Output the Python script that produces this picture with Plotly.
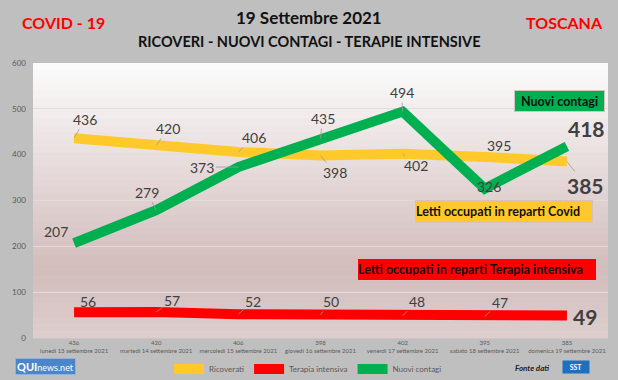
import plotly.graph_objects as go

# ---------------- data ----------------
dates = ["lunedì 13 settembre 2021", "martedì 14 settembre 2021", "mercoledì 15 settembre 2021",
         "giovedì 16 settembre 2021", "venerdì 17 settembre 2021", "sabato 18 settembre 2021",
         "domenica 19 settembre 2021"]
ricoverati = [436, 420, 406, 398, 402, 395, 385]
terapia = [56, 57, 52, 50, 48, 47, 49]
contagi = [207, 279, 373, 435, 494, 326, 418]
tick_labels = [f"{r}<br>{d}" for r, d in zip(ricoverati, dates)]

# ---------------- styles ----------------
C_YEL = "#ffc92c"
C_RED = "#ff0000"
C_GRN = "#00b050"
LBL = "#404040"
FONT = "Lato, 'Liberation Sans', Arial, sans-serif"

# layout geometry (pixels) for decorations
W, H = 618, 380
ML, MR, MT, MB = 33, 10, 63, 42
PW, PH = W - ML - MR, H - MT - MB


def px(x):
    return (x - ML) / PW


def py(y):
    return (H - MB - y) / PH


fig = go.Figure()
fig.add_trace(go.Scatter(x=dates, y=ricoverati, name="Ricoverati", mode="lines",
                         line=dict(color=C_YEL, width=10)))
fig.add_trace(go.Scatter(x=dates, y=terapia, name="Terapia intensiva", mode="lines",
                         line=dict(color=C_RED, width=10)))
fig.add_trace(go.Scatter(x=dates, y=contagi, name="Nuovi contagi", mode="lines",
                         line=dict(color=C_GRN, width=10)))

# label offsets (pixels) : (dx, dy, leader)
off_ric = [(11, -19, 1), (12, -17, 1), (16, -14, 1), (14, 17, 1), (13, 12, 1), (14, -11, 0), (19, 24, 1)]
off_ter = [(14, -11, 0), (16, -11, 1), (15, -13, 1), (10, -14, 1), (14, -15, 1), (15, -14, 1), (18, 1, 0)]
off_con = [(-18, -12, 0), (-9, -18, 1), (-36, 0, 1), (2, -20, 1), (-1, -19, 1), (4, -2, 0), (20, -18, 0)]

annotations = []
for vals, offs in ((ricoverati, off_ric), (terapia, off_ter), (contagi, off_con)):
    for i, (v, (dx, dy, lead)) in enumerate(zip(vals, offs)):
        last = i == len(vals) - 1
        annotations.append(dict(
            x=dates[i], y=v, xref="x", yref="y",
            text=f"<b>{v}</b>" if last else str(v),
            font=dict(size=21 if last else 14, color=LBL, family=FONT),
            showarrow=True, arrowhead=0, arrowwidth=0.8,
            arrowcolor="#9a9a9a" if lead else "rgba(0,0,0,0)",
            ax=dx, ay=dy, standoff=0, startstandoff=0,
        ))

# titles
annotations += [
    dict(x=px(309), xref="paper", y=py(17), yref="paper", xanchor="center", yanchor="middle",
         text="<b>19 Settembre 2021</b>", showarrow=False,
         font=dict(size=17, color="#111111", family=FONT)),
    dict(x=px(309), xref="paper", y=py(42), yref="paper", xanchor="center", yanchor="middle",
         text="<b>RICOVERI - NUOVI CONTAGI - TERAPIE INTENSIVE</b>", showarrow=False,
         font=dict(size=14.5, color="#111111", family=FONT)),
    dict(x=px(20), xref="paper", y=py(23), yref="paper", xanchor="left", yanchor="middle",
         text="<b>COVID - 19</b>", showarrow=False,
         font=dict(size=16, color=C_RED, family=FONT)),
    dict(x=px(605), xref="paper", y=py(23), yref="paper", xanchor="right", yanchor="middle",
         text="<b>TOSCANA</b>", showarrow=False,
         font=dict(size=16, color=C_RED, family=FONT)),
]

# legend boxes
boxes = [
    ("Nuovi contagi", C_GRN, 514, 605, 90, 112, "center", 0),
    ("Letti occupati in reparti Covid", C_YEL, 415, 603, 200, 223, "left", 5),
    ("Letti occupati in reparti Terapia intensiva", C_RED, 357, 607, 258, 281, "left", 5),
]
for txt, col, x0, x1, y0, y1, al, pad in boxes:
    annotations.append(dict(
        x=px(x0), xref="paper", y=py((y0 + y1) / 2), yref="paper",
        xanchor="left", yanchor="middle", showarrow=False,
        text=f"<b>{txt}</b>", align=al, valign="middle",
        width=x1 - x0 - 2 - 2 * pad, height=y1 - y0 - 2, borderpad=0,
        bgcolor=col, bordercolor="#d8c0c0", borderwidth=1,
        font=dict(size=12.5, color="#111111", family=FONT),
    ))

# footer logos / source
annotations += [
    dict(x=px(15), xref="paper", y=py(366), yref="paper", xanchor="left", yanchor="middle",
         showarrow=False, text="<b>QUI</b><span style='font-size:9px'>news.net</span>",
         bgcolor="#4d86c8", bordercolor="#8fb3de", borderwidth=1, borderpad=1,
         font=dict(size=11, color="white", family=FONT)),
    dict(x=px(551), xref="paper", y=py(368), yref="paper", xanchor="right", yanchor="middle",
         showarrow=False, text="<b><i>Fonte dati</i></b>",
         font=dict(size=8, color="#222222", family=FONT)),
    dict(x=px(562), xref="paper", y=py(367), yref="paper", xanchor="left", yanchor="middle",
         showarrow=False, text="<b>SST</b>", width=26, height=12,
         bgcolor="#1f6fc0", borderpad=0,
         font=dict(size=7, color="white", family=FONT)),
]

# gradient plot-area background
stops = [(0.0, (252, 252, 252)), (0.25, (238, 230, 230)), (0.75, (210, 188, 188)), (1.0, (222, 206, 206))]
N = 40


def col_at(t):
    for (t0, c0), (t1, c1) in zip(stops[:-1], stops[1:]):
        if t0 <= t <= t1:
            f = (t - t0) / (t1 - t0)
            return "rgb(%d,%d,%d)" % tuple(round(a + (b - a) * f) for a, b in zip(c0, c1))
    return "rgb(%d,%d,%d)" % stops[-1][1]


shapes = []
for k in range(N):
    t = (k + 0.5) / N
    shapes.append(dict(type="rect", xref="x domain", yref="y domain", layer="below",
                       x0=0, x1=1, y0=1 - (k + 1) / N - 0.002, y1=1 - k / N,
                       fillcolor=col_at(t), line=dict(width=0)))

fig.update_layout(
    width=W, height=H, autosize=False,
    margin=dict(l=ML, r=MR, t=MT, b=MB, autoexpand=False),
    paper_bgcolor="#bfbfbf",
    plot_bgcolor="#f0e8e8",
    font=dict(family=FONT, color="#595959"),
    showlegend=True,
    legend=dict(orientation="h", x=px(308), xanchor="center", y=py(369), yanchor="middle",
                font=dict(size=8, color="#595959"), bgcolor="rgba(0,0,0,0)",
                itemwidth=30, tracegroupgap=0),
    xaxis=dict(type="category", categoryorder="array", categoryarray=dates,
               tickmode="array", tickvals=dates, ticktext=tick_labels, automargin=False,
               range=[-0.5, len(dates) - 0.5], showgrid=False, zeroline=False,
               showline=False, ticks="", tickfont=dict(size=6, color="#595959")),
    yaxis=dict(range=[0, 600], dtick=100, showgrid=True, gridcolor="#e4dcdc", gridwidth=1,
               zeroline=False, showline=False, ticks="", ticklabelstandoff=6, automargin=False,
               tickfont=dict(size=8, color="#595959")),
    annotations=annotations,
    shapes=shapes,
)

fig.write_html("out.html", config={"responsive": False, "displayModeBar": False},
               post_script="document.body.style.margin='0';document.body.style.overflow='hidden';")
